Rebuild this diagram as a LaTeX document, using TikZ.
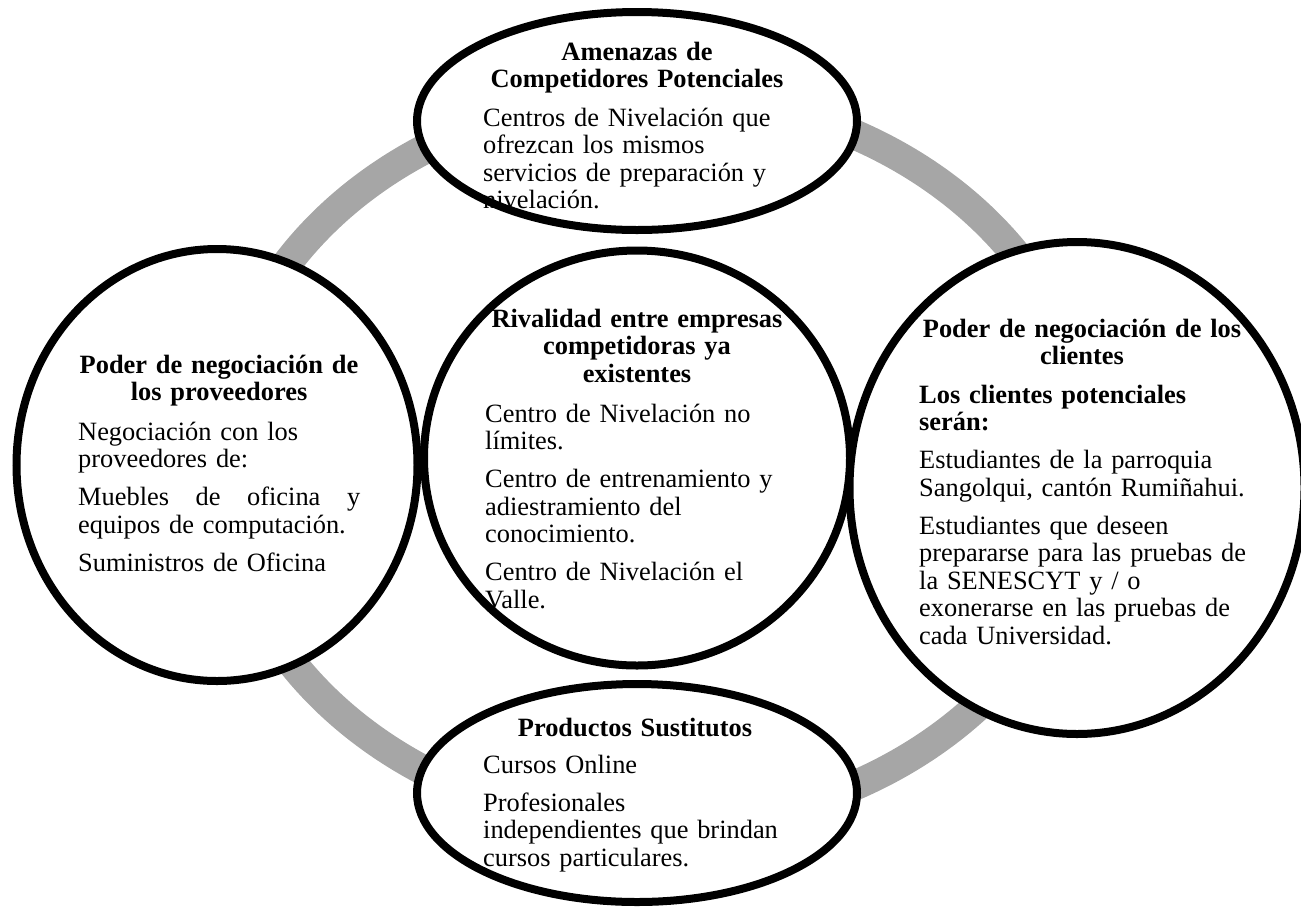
\documentclass[tikz,border=0pt]{standalone}
\usepackage{fontspec}
\setmainfont{Liberation Serif}
\usetikzlibrary{shapes.geometric}
\definecolor{ringgray}{HTML}{A6A6A6}
\begin{document}
\begin{tikzpicture}[x=1pt,y=-1pt,
  bubble/.style={ellipse,draw=black,line width=8pt,fill=white,inner sep=0pt},
  title/.style={font=\bfseries\fontsize{26.4}{27.5}\selectfont,text width=360pt,execute at begin node=\centering,anchor=base,inner sep=0pt},
  body/.style={font=\fontsize{26.4}{27.5}\selectfont,text width=340pt,execute at begin node=\raggedright,anchor=base west,inner sep=0pt}]
\useasboundingbox (0,0) rectangle (1301,906);
% ring behind the five forces
\draw[ringgray,line width=30pt] (655,460) ellipse [x radius=436,y radius=366];
% the forces
\node[bubble,minimum width=401,minimum height=432] (proveedores) at (217,465) {};
\node[bubble,minimum width=426,minimum height=415] (rivalidad) at (637,458) {};
\node[bubble,minimum width=455,minimum height=492] (clientes) at (1077,488) {};
\node[bubble,minimum width=440,minimum height=218] (amenazas) at (637,121) {};
\node[bubble,minimum width=440,minimum height=218] (sustitutos) at (637,793) {};
% texts
\node[title] (amenazas-t) at (637,60) {Amenazas de\\Competidores Potenciales};
\node[body] (amenazas-b) at (483,126) {Centros de Nivelación que\\ofrezcan los mismos\\servicios de preparación y\\nivelación.};
\node[title] (rivalidad-t) at (637,327) {Rivalidad entre empresas\\competidoras ya\\existentes};
\node[body] (rivalidad-b) at (485,422) {Centro de Nivelación no\\límites.\\[10.5pt]Centro de entrenamiento y\\adiestramiento del\\conocimiento.\\[10.5pt]Centro de Nivelación el\\Valle.};
\node[title] (proveedores-t) at (219,373) {Poder de negociación de\\los proveedores};
\node[body] (proveedores-b) at (78,440) {Negociación con los\\proveedores de:\\[10.5pt]\makebox[282pt][l]{Muebles\hfill de\hfill oficina\hfill y}\\equipos de computación.\\[10.5pt]Suministros de Oficina};
\node[title] (clientes-t) at (1082,337) {Poder de negociación de los\\clientes};
\node[body] (clientes-b) at (919,403) {\textbf{Los clientes potenciales}\\\textbf{serán:}\\[10.5pt]Estudiantes de la parroquia\\Sangolqui, cantón Rumiñahui.\\[10.5pt]Estudiantes que deseen\\prepararse para las pruebas de\\la SENESCYT y / o\\exonerarse en las pruebas de\\cada Universidad.};
\node[title] (sustitutos-t) at (635,736) {Productos Sustitutos};
\node[body] (sustitutos-b) at (483,773) {Cursos Online\\[10.5pt]Profesionales\\independientes que brindan\\cursos particulares.};
\end{tikzpicture}
\end{document}
